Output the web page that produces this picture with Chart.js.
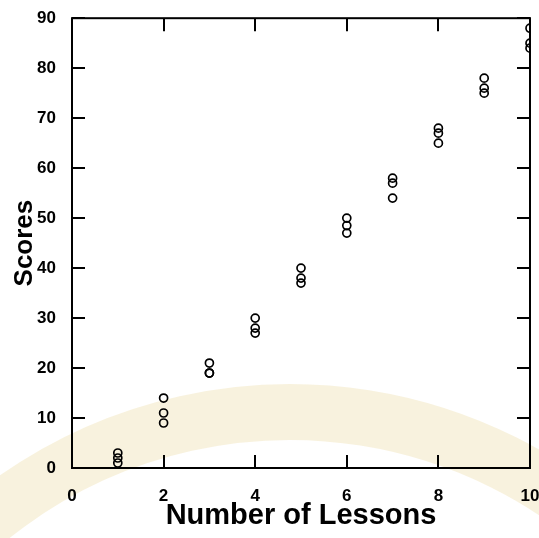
<!DOCTYPE html>
<html>
<head>
<meta charset="utf-8">
<script src="https://cdn.jsdelivr.net/npm/chart.js@4"></script>
<style>
  html, body { margin: 0; padding: 0; background: #fff; }
  #wrap { width: 539px; height: 538px; }
</style>
</head>
<body>
<div id="wrap"><canvas id="chart"></canvas></div>
<script>
// lessons on the x axis, three scores measured per lesson count
const lessons = [1, 2, 3, 4, 5, 6, 7, 8, 9, 10];
const scoresA = [3, 14, 21, 30, 40, 50, 58, 68, 78, 88];
const scoresB = [2, 11, 19, 28, 38, 48.5, 57, 67, 76, 85];
const scoresC = [1, 9, 19, 27, 37, 47, 54, 65, 75, 84];
const xTicks = [0, 2, 4, 6, 8, 10];
const yTicks = [0, 10, 20, 30, 40, 50, 60, 70, 80, 90];

const points = [];
[scoresA, scoresB, scoresC].forEach(series => {
    series.forEach((v, i) => points.push({ x: lessons[i], y: v }));
});

// faint scanned-page watermark band behind the plot
const paper = {
    id: 'paper',
    beforeDraw(chart) {
        const ctx = chart.ctx;
        ctx.save();
        ctx.strokeStyle = 'rgba(240, 226, 182, 0.45)';
        ctx.lineWidth = 56;
        ctx.beginPath();
        ctx.arc(290, 890, 478, Math.PI * 1.05, Math.PI * 1.95);
        ctx.stroke();
        ctx.restore();
    }
};

// box around the plot with inward ticks on all four sides
const frame = {
    id: 'frame',
    afterDatasetsDraw(chart) {
        const { ctx, chartArea: a, scales } = chart;
        const len = 13;
        ctx.save();
        ctx.strokeStyle = '#000';
        ctx.lineWidth = 2;
        ctx.strokeRect(a.left, a.top, a.right - a.left, a.bottom - a.top);
        ctx.beginPath();
        xTicks.forEach(v => {
            const px = Math.round(scales.x.getPixelForValue(v));
            ctx.moveTo(px, a.bottom); ctx.lineTo(px, a.bottom - len);
            ctx.moveTo(px, a.top); ctx.lineTo(px, a.top + len);
        });
        yTicks.forEach(v => {
            const py = Math.round(scales.y.getPixelForValue(v));
            ctx.moveTo(a.left, py); ctx.lineTo(a.left + len, py);
            ctx.moveTo(a.right, py); ctx.lineTo(a.right - len, py);
        });
        ctx.stroke();
        ctx.restore();
    }
};

new Chart(document.getElementById('chart'), {
    type: 'scatter',
    data: {
        datasets: [{
            data: points,
            pointStyle: 'circle',
            pointRadius: 4,
            pointBorderWidth: 1.7,
            pointBorderColor: '#000',
            pointBackgroundColor: 'rgba(255,255,255,0)'
        }]
    },
    options: {
        responsive: true,
        maintainAspectRatio: false,
        animation: false,
        layout: { padding: { top: 18, right: 0, left: 0, bottom: 0 } },
        plugins: { legend: { display: false }, tooltip: { enabled: false } },
        scales: {
            x: {
                type: 'linear',
                min: 0,
                max: 10,
                afterFit: s => { s.height = 70; s.paddingRight = 9; },
                afterBuildTicks: s => { s.ticks = xTicks.map(v => ({ value: v })); },
                grid: { display: false },
                border: { display: false },
                ticks: {
                    color: '#000',
                    padding: 10,
                    maxRotation: 0,
                    font: { family: 'Liberation Sans, Arial', size: 17, weight: 'bold' }
                },
                title: {
                    display: true,
                    text: 'Number of Lessons',
                    color: '#000',
                    padding: { top: 0, bottom: 5 },
                    font: { family: 'Liberation Sans, Arial', size: 29, weight: 'bold' }
                }
            },
            y: {
                type: 'linear',
                min: 0,
                max: 90,
                afterFit: s => { s.width = 72; },
                afterBuildTicks: s => { s.ticks = yTicks.map(v => ({ value: v })); },
                grid: { display: false },
                border: { display: false },
                ticks: {
                    color: '#000',
                    padding: 8,
                    font: { family: 'Liberation Sans, Arial', size: 17, weight: 'bold' }
                },
                title: {
                    display: true,
                    text: 'Scores',
                    color: '#000',
                    padding: { top: 9, bottom: 0 },
                    font: { family: 'Liberation Sans, Arial', size: 26, weight: 'bold' }
                }
            }
        }
    },
    plugins: [paper, frame]
});
</script>
</body>
</html>
